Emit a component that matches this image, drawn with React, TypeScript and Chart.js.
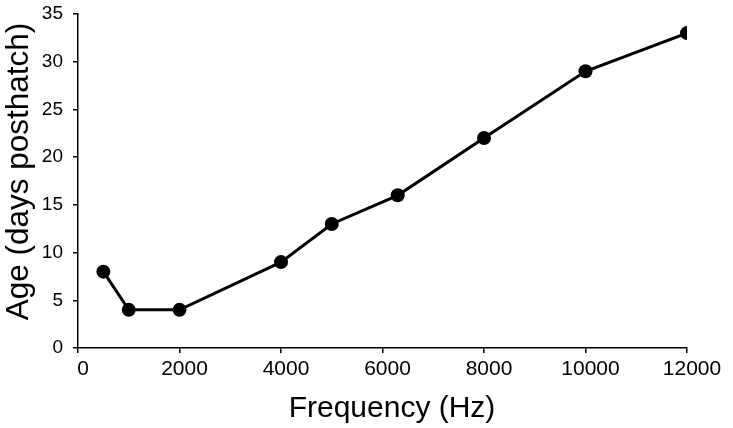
import React, { useEffect, useRef } from "react";
import { Chart, registerables } from "chart.js";

Chart.register(...registerables);

const frequencies = [500, 1000, 2000, 4000, 5000, 6300, 8000, 10000, 12000];
const ages = [8, 4, 4, 9, 13, 16, 22, 29, 33];
const xTitle = "Frequency (Hz)";
const yTitle = "Age (days posthatch)";

const FONT = "'Liberation Sans', Arial, Helvetica, sans-serif";

const titlePlugin = {
  id: "axisTitles",
  afterDraw(chart: any) {
    const ctx = chart.ctx as CanvasRenderingContext2D;
    ctx.save();
    ctx.fillStyle = "#000";
    ctx.textAlign = "center";
    ctx.textBaseline = "alphabetic";
    ctx.font = `30px ${FONT}`;
    ctx.fillText(xTitle, 392, 417);
    ctx.translate(28, 171.5);
    ctx.rotate(-Math.PI / 2);
    ctx.font = `31.5px ${FONT}`;
    ctx.fillText(yTitle, 0, 0);
    ctx.restore();
  },
};

export default function App() {
  const ref = useRef<HTMLCanvasElement | null>(null);

  useEffect(() => {
    document.body.style.margin = "0";
    const canvas = ref.current!;
    const chart = new Chart(canvas, {
      type: "scatter",
      data: {
        datasets: [
          {
            data: frequencies.map((f, i) => ({ x: f, y: ages[i] })),
            showLine: true,
            borderColor: "#000",
            backgroundColor: "#000",
            borderWidth: 3,
            pointRadius: 7,
            pointHoverRadius: 7,
            pointBackgroundColor: "#000",
            pointBorderColor: "#000",
            pointBorderWidth: 0,
          },
        ],
      },
      plugins: [titlePlugin],
      options: {
        responsive: false,
        animation: false,
        devicePixelRatio: 1,
        layout: { padding: { top: 14, right: 46, left: 0, bottom: 0 } },
        plugins: { legend: { display: false }, tooltip: { enabled: false } },
        scales: {
          x: {
            type: "linear",
            min: 0,
            max: 12000,
            afterFit: (s: any) => {
              s.height = 80;
              s.paddingLeft = 0;
              s.paddingRight = 0;
            },
            ticks: {
              stepSize: 2000,
              color: "#000",
              padding: 4,
              labelOffset: 5,
              maxRotation: 0,
              font: { family: FONT, size: 21 },
              callback: (v: any) => String(v),
            },
            grid: {
              display: true,
              drawOnChartArea: false,
              drawTicks: true,
              tickLength: 5,
              color: "#000",
              lineWidth: 1.5,
            },
            border: { display: true, color: "#000", width: 1.5 },
          },
          y: {
            type: "linear",
            min: 0,
            max: 35,
            afterFit: (s: any) => {
              s.width = 78;
              s.paddingTop = 0;
              s.paddingBottom = 0;
            },
            ticks: {
              stepSize: 5,
              color: "#000",
              padding: 10,
              font: { family: FONT, size: 19 },
              callback: (v: any) => String(v),
            },
            grid: {
              display: true,
              drawOnChartArea: false,
              drawTicks: true,
              tickLength: 5,
              color: "#000",
              lineWidth: 1.5,
            },
            border: { display: true, color: "#000", width: 1.5 },
          },
        },
      },
    });
    return () => chart.destroy();
  }, []);

  return (
    <div style={{ position: "relative", width: 733, height: 428, background: "#fff" }}>
      <canvas ref={ref} width={733} height={428} style={{ display: "block" }} />
    </div>
  );
}
